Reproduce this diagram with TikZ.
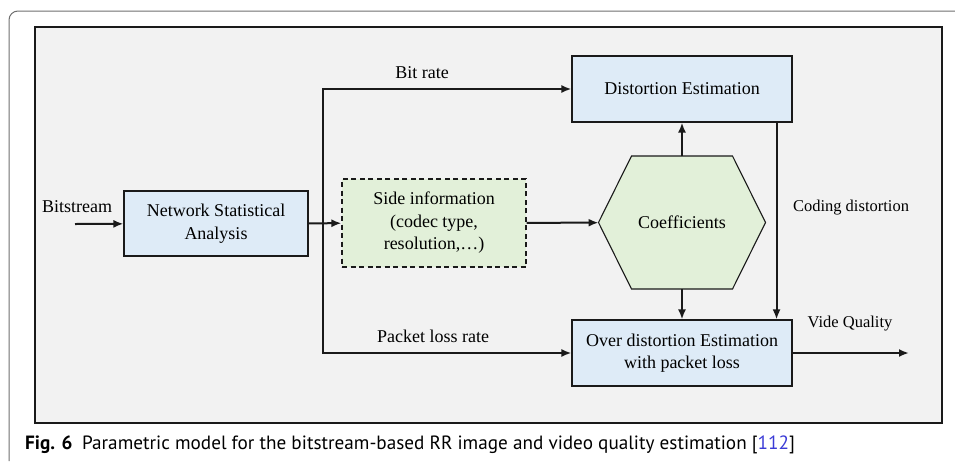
\documentclass[tikz,border=0pt]{standalone}
\usepackage{fontspec}
\setmainfont{Liberation Serif}
\setsansfont{PT Sans}
\usepackage{xcolor}
\definecolor{mainDark}{HTML}{1A1A1A}
\definecolor{blueFill}{HTML}{DEEBF7}
\definecolor{greenFill}{HTML}{E2F0D9}
\definecolor{panelGray}{HTML}{F2F2F2}
\definecolor{frameGray}{HTML}{6E6E6E}
\definecolor{refBlue}{HTML}{3B3BD6}
\usepackage{tikz}
\usetikzlibrary{positioning,calc,arrows.meta}
\tikzset{
  blueBox/.style={
    rectangle,
    draw=mainDark,
    line width=1.1pt,
    fill=blueFill,
    inner sep=0pt,
    align=center,
    font=\fontsize{18}{22.5}\selectfont
 },
  sideBox/.style={
    rectangle,
    draw=mainDark,
    line width=1.1pt,
    dash pattern=on 5pt off 3.5pt,
    fill=greenFill,
    inner sep=0pt,
    align=center,
    font=\fontsize{18}{22.5}\selectfont
 },
  coefArea/.style={
    rectangle,
    minimum width=167pt,
    minimum height=133pt,
    inner sep=0pt,
    outer sep=0pt
 },
  hexLine/.style={
    draw=mainDark,
    line width=1.1pt,
    fill=greenFill,
    line join=miter
 },
  bigLabel/.style={
    font=\fontsize{18}{22}\selectfont,
    inner sep=0pt
 },
  smallLabel/.style={
    font=\fontsize{16.5}{20}\selectfont,
    inner sep=0pt
 },
  arrowLine/.style={
    -{Latex[length=10pt,width=8pt]},
    line width=2pt,
    color=mainDark
 }
}

\begin{document}
\begin{tikzpicture}[x=1pt,y=-1pt]
            \useasboundingbox (0,0) rectangle (955,461);

            % Page frame and panel
            \draw[frameGray, line width=1pt, rounded corners=9pt] (9,461) -- (9,11) -- (955,11);
            \draw[mainDark, line width=1.2pt, fill=panelGray] (35,27) rectangle (942,423);

            % Left part: input and analysis
            \node[bigLabel] (bitLabel) at (77,207) {Bitstream};
            \coordinate (bitIn) at (75,224);
            \node[blueBox, minimum width=184pt, minimum height=65pt] (nsa) at (216,223.5) {Network Statistical\\Analysis};
            \node[sideBox, minimum width=184pt, minimum height=88pt] (side) at (434,223) {Side information\\(codec type,\\resolution,\ldots)};
            \coordinate (split) at (323,224);

            % Right part: estimation blocks
            \node[blueBox, minimum width=220pt, minimum height=66pt] (dist) at (682,89) {Distortion Estimation};
            \node[blueBox, minimum width=220pt, minimum height=66pt] (od) at (682,353) {Over distortion Estimation\\with packet loss};
            \node[coefArea] (coef) at (682,222.5) {};
            \draw[hexLine] (coef.west) -- ([xshift=33pt]coef.north west) -- ([xshift=-33pt]coef.north east)
              -- (coef.east) -- ([xshift=-33pt]coef.south east) -- ([xshift=33pt]coef.south west) -- cycle;
            \node[bigLabel] (coefText) at (coef) {Coefficients};
            \coordinate (vqOut) at (909,353);

            % Labels
            \node[bigLabel] (rateLabel) at (422,73) {Bit rate};
            \node[bigLabel] (lossLabel) at (433,336) {Packet loss rate};
            \node[smallLabel] (codingLabel) at (851,208) {Coding distortion};
            \node[smallLabel] (vqLabel) at (850,324) {Vide Quality};

            % Arrows
            \draw[arrowLine] (bitIn) -- (nsa);
            \draw[arrowLine] (nsa) -- (side);
            \draw[arrowLine] (split) |- (dist);
            \draw[arrowLine] (split) |- (od);
            \draw[arrowLine] (side) -- (coef);
            \draw[arrowLine] (coef) -- (dist);
            \draw[arrowLine] (coef) -- (od);
            \draw[arrowLine] ([xshift=-16pt]dist.south east) -- ([xshift=-16pt]od.north east);
            \draw[arrowLine] (od) -- (vqOut);

            % Caption
            \node[anchor=west, inner sep=0pt, font=\sffamily\fontsize{19.2}{22}\selectfont] (caption) at (25,445)
              {\textbf{Fig. 6}\hspace{0.5em}Parametric model for the bitstream-based RR image and video quality estimation [\textcolor{refBlue}{112}]};

        \end{tikzpicture}
\end{document}
